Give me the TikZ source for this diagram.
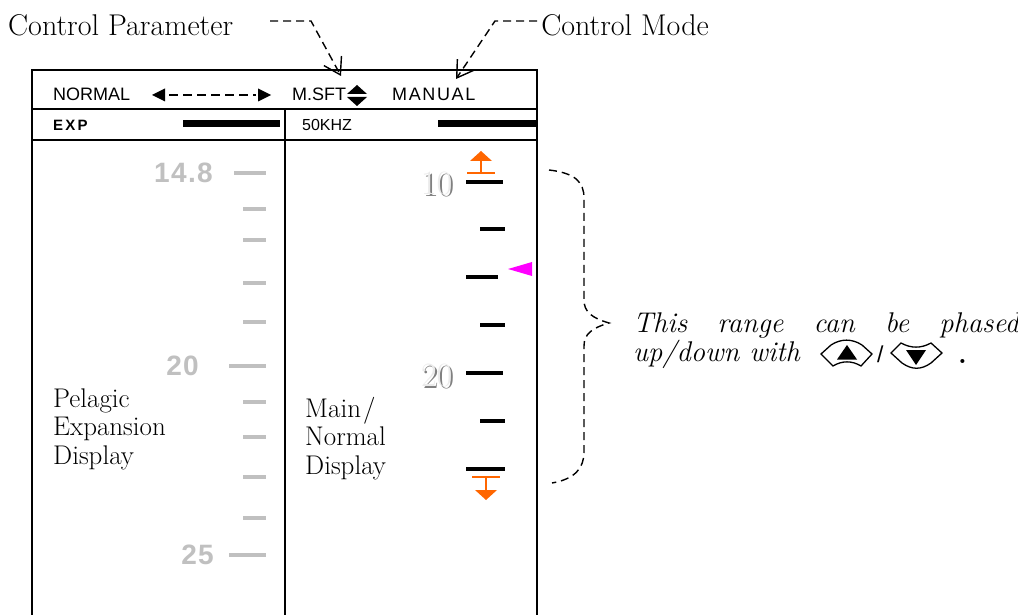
\documentclass[tikz,border=0pt]{standalone}
\usepackage{fontspec}
\newfontfamily\arial{Liberation Sans}
\usetikzlibrary{arrows.meta}
\definecolor{lgray}{HTML}{C0C0C0}
\definecolor{orng}{HTML}{FF6600}
\definecolor{mgnt}{HTML}{FF00FF}
\tikzset{
  lbl/.style={inner sep=0pt, anchor=base west, font=\fontsize{30}{34}\selectfont},
  body/.style={inner sep=0pt, anchor=base west, align=left, font=\fontsize{27}{28.5}\selectfont},
  hdr/.style={inner sep=0pt, anchor=base west, font=\arial\fontsize{18}{20}\selectfont},
  small/.style={inner sep=0pt, anchor=base west, font=\arial\fontsize{16}{18}\selectfont},
  frame/.style={line width=2pt},
  darr/.style={line width=1.4pt, dash pattern=on 8pt off 5pt, -{Straight Barb[length=16pt,width=20pt,line width=1.4pt]}},
  dline/.style={line width=1.4pt, dash pattern=on 8pt off 5pt},
  gtick/.style={draw=lgray, line width=4pt},
  btick/.style={draw=black, line width=4pt},
  gnum/.style={inner sep=0pt, anchor=east, text=lgray, font=\arial\bfseries\fontsize{28}{30}\selectfont\addfontfeature{LetterSpace=5}},
  rnum/.style={inner sep=0pt, anchor=east, font=\fontsize{34}{36}\selectfont},
  omark/.style={draw=orng, line width=2.5pt},
  note/.style={inner sep=0pt, anchor=base west, font=\itshape\fontsize{28.5}{30}\selectfont},
  btn/.style={draw=black, line width=1.3pt, fill=white},
}
\begin{document}
\begin{tikzpicture}[x=1pt,y=-1pt]
\useasboundingbox (0,0) rectangle (1018,615);
\clip (0,0) rectangle (1018,615);
\fill[white] (0,0) rectangle (1018,615);

% top labels and arrows
\node[lbl] (cp) at (8,36) {Control Parameter};
\node[lbl, anchor=base east] (cm) at (709,36) {Control Mode};
\coordinate (cpa) at (270,21);
\coordinate (cpb) at (311,21);
\coordinate (cpt) at (341,76);
\draw[darr] (cpa) -- (cpb) -- (cpt);
\coordinate (cma) at (537,21);
\coordinate (cmb) at (495,21);
\coordinate (cmt) at (456,79);
\draw[darr] (cma) -- (cmb) -- (cmt);

% frame
\draw[frame] (32,620) -- (32,70) -- (537,70) -- (537,620);
\draw[frame] (32,109) -- (537,109);
\draw[frame] (32,140) -- (537,140);
\draw[frame] (285,109) -- (285,620);

% header row
\node[hdr] (normal) at (53,101) {NORMAL};
\node[hdr] (msft) at (292,101) {M.SFT};
\node[hdr, font=\arial\fontsize{18}{20}\selectfont\addfontfeature{LetterSpace=9}] (manual) at (392,101) {MANUAL};
\fill (152,95) -- (165,88.5) -- (165,101.5) -- cycle;
\fill (271,95) -- (258,88.5) -- (258,101.5) -- cycle;
\draw[line width=1.3pt, dash pattern=on 9pt off 5pt] (169,95) -- (256,95);
\fill (347,94) -- (367,94) -- (357,85) -- cycle;
\fill (347,97) -- (367,97) -- (357,106) -- cycle;

% second row
\node[small, font=\arial\bfseries\fontsize{15}{17}\selectfont\addfontfeature{LetterSpace=15}] (exp) at (53,131) {EXP};
\node[small] (khz) at (302,131) {50KHZ};
\fill (183,120) rectangle (280,127);
\fill (438,120) rectangle (537,127);

% left (pelagic) scale
\draw[gtick] (234,173) -- (266,173);
\foreach \y in {209,240,283,322,402,437,477,518} \draw[gtick] (243,\y) -- (266,\y);
\draw[gtick] (229,366) -- (266,366);
\draw[gtick] (229,555) -- (266,555);
\node[gnum] (l148) at (213,173) {14.8};
\node[gnum] (l20) at (199,366) {20};
\node[gnum] (l25) at (214,555) {25};
\node[body] (pel) at (53,464) {{\addfontfeature{LetterSpace=8}Pelagic}\\Expansion\\Display};

% right (main) scale
\foreach \y/\a/\b in {182/466/503,229/480/505,277/466/498,325/480/505,373/466/503,421/480/505,469/466/505}
  \draw[btick] (\a,\y) -- (\b,\y);
\node[rnum, text=gray] at (454.5,186) {10};
\node[rnum, text=black!8] (r10) at (452.5,184) {10};
\node[rnum, text=gray] at (454.5,378) {20};
\node[rnum, text=black!8] (r20) at (452.5,376) {20};
\node[body] (main) at (305,474) {Main\kern2pt/\\Normal\\Display};

% orange range markers
\draw[omark] (467,173) -- (495,173);
\draw[omark] (481,173) -- (481,159);
\fill[orng] (470,161) -- (492,161) -- (481,151) -- cycle;
\draw[omark] (472,477) -- (500,477);
\draw[omark] (486,477) -- (486,491);
\fill[orng] (475,490) -- (497,490) -- (486,500) -- cycle;
% magenta pointer
\fill[mgnt] (508,269) -- (532,262) -- (532,276) -- cycle;

% brace
\draw[dline] (549,170) .. controls (575,173) and (584,182) .. (584,198)
  -- (584,300) .. controls (584,312) and (592,318) .. (609,323)
  .. controls (592,328) and (584,334) .. (584,346)
  -- (584,452) .. controls (584,468) and (575,479) .. (552,483);

% note text
\node[note] (n1) at (633,332) {\makebox[386pt][s]{This range can be phased}};
\node[note] (n2) at (633,361) {up/down with};
\draw[btn] (821,354) -- (831,345) .. controls (841,338.5) and (852,338.5) .. (862,345)
  -- (872,354) -- (861,366) .. controls (852,360.5) and (842,360.5) .. (833,366) -- cycle;
\fill (837,359.5) -- (857,359.5) -- (847,345) -- cycle;
\node[hdr, font=\arial\fontsize{23}{24}\selectfont] (sl) at (877,362) {/};
\draw[btn] (891,353) -- (901,343) .. controls (911,348.5) and (921,348.5) .. (931,343)
  -- (942,353) -- (931,363) .. controls (921,370) and (912,370) .. (902,363) -- cycle;
\fill (906,350) -- (926,350) -- (916,365) -- cycle;
\node[inner sep=0pt, anchor=base west, font=\bfseries\fontsize{28}{30}\selectfont] (dot) at (958,363) {.};
\end{tikzpicture}
\end{document}
